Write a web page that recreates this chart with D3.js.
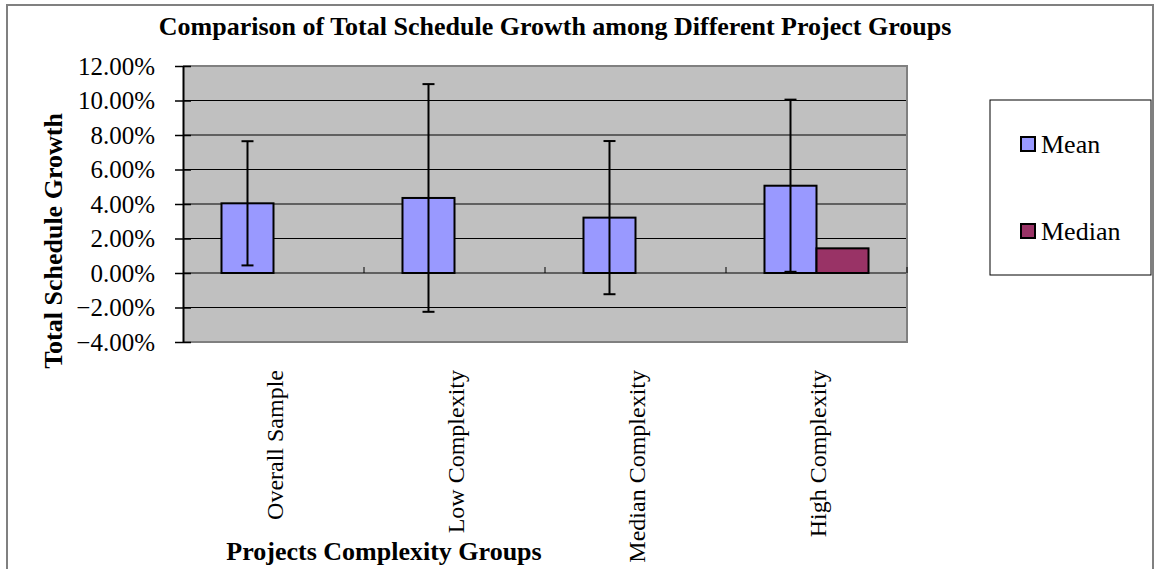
<!DOCTYPE html>
<html><head><meta charset="utf-8">
<script src="https://cdn.jsdelivr.net/npm/d3@7"></script>
<style>html,body{margin:0;padding:0;background:#fff;} svg{display:block;font-family:"Liberation Serif","Times New Roman",serif;}</style>
</head><body>
<svg id="c" width="1156" height="569"></svg>
<script>
const categories = ["Overall Sample","Low Complexity","Median Complexity","High Complexity"];
const seriesNames = ["Mean","Median"];
const meanValues = [0.0404, 0.0435, 0.0321, 0.0506];
const medianValues = [null, null, null, 0.0143];
const meanErrors = [0.036, 0.066, 0.0444, 0.0499];
const yTicks = [-0.04,-0.02,0,0.02,0.04,0.06,0.08,0.10,0.12];
const seriesColors = ["#9999FF","#993366"];
const titleText = "Comparison of Total Schedule Growth among Different Project Groups";
const yTitle = "Total Schedule Growth";
const xTitle = "Projects Complexity Groups";

const svg = d3.select("#c");
const L = 183, R = 907, T = 66, B = 342;

// outer frame
svg.append("rect").attr("x",7).attr("y",5).attr("width",1146).attr("height",580)
  .attr("fill","#fff").attr("stroke","#808080").attr("stroke-width",2);

const x0 = d3.scaleBand().domain(categories).range([L,R]).paddingInner(0).paddingOuter(0);
const x1 = d3.scaleBand().domain(seriesNames).range([0,x0.bandwidth()]).paddingInner(0).paddingOuter(0.74);
const y = d3.scaleLinear().domain([-0.04,0.12]).range([B,T]);

// plot area
svg.append("rect").attr("x",L).attr("y",T).attr("width",R-L).attr("height",B-T).attr("fill","#C0C0C0");
// gridlines
svg.append("g").selectAll("line").data(yTicks.filter(d=>d>-0.04 && d<0.12)).join("line")
  .attr("x1",L).attr("x2",R).attr("y1",d=>y(d)).attr("y2",d=>y(d))
  .attr("stroke","#000").attr("stroke-width",1);
// plot border top/right/bottom
svg.append("path").attr("d",`M${L},${T}H${R}V${B}H${L}`).attr("fill","none").attr("stroke","#808080").attr("stroke-width",2);

// category ticks on zero line
const bounds = categories.slice(1).map(c=>x0(c)).concat([R]);
svg.append("g").selectAll("line").data(bounds).join("line")
  .attr("x1",d=>d).attr("x2",d=>d).attr("y1",y(0)).attr("y2",y(0)-6)
  .attr("stroke","#000").attr("stroke-width",1);

// bars
const data = [];
categories.forEach((c,i)=>{
  [meanValues[i], medianValues[i]].forEach((v,j)=>{
    if(v!==null) data.push({c, s:seriesNames[j], v, j});
  });
});
svg.append("g").selectAll("rect").data(data).join("rect")
  .attr("x",d=>x0(d.c)+x1(d.s)).attr("width",x1.bandwidth())
  .attr("y",d=>y(Math.max(0,d.v))).attr("height",d=>Math.abs(y(d.v)-y(0)))
  .attr("fill",d=>seriesColors[d.j]).attr("stroke","#000").attr("stroke-width",2);

// error bars on Mean
const eg = svg.append("g").attr("stroke","#000").attr("stroke-width",2);
categories.forEach((c,i)=>{
  const cx = x0(c)+x1("Mean")+x1.bandwidth()/2;
  const hi = y(meanValues[i]+meanErrors[i]), lo = y(meanValues[i]-meanErrors[i]);
  eg.append("line").attr("x1",cx).attr("x2",cx).attr("y1",hi).attr("y2",lo);
  eg.append("line").attr("x1",cx-6).attr("x2",cx+6).attr("y1",hi).attr("y2",hi);
  eg.append("line").attr("x1",cx-6).attr("x2",cx+6).attr("y1",lo).attr("y2",lo);
});

// y axis
const yAxis = d3.axisLeft(y).tickValues(yTicks).tickFormat(d3.format(".2%")).tickSizeInner(8).tickSizeOuter(0).tickPadding(20);
const ga = svg.append("g").attr("transform",`translate(${L},0)`).call(yAxis);
ga.select(".domain").attr("stroke","#000").attr("stroke-width",2);
ga.selectAll(".tick line").attr("x2",8).attr("x1",-8).attr("stroke","#000").attr("stroke-width",1.5);
ga.selectAll(".tick text").attr("font-size",25).attr("fill","#000").attr("x",-28)
  .attr("font-family","'Liberation Serif','Times New Roman',serif");

// x labels
svg.append("g").selectAll("text").data(categories).join("text")
  .attr("transform",d=>`translate(${x0(d)+x0.bandwidth()/2+9},370) rotate(-90)`)
  .attr("text-anchor","end").attr("font-size",24).attr("fill","#000").text(d=>d);

// titles
svg.append("text").attr("x",555).attr("y",35).attr("text-anchor","middle")
  .attr("font-size",26).attr("font-weight","bold").text(titleText);
svg.append("text").attr("transform","translate(62,241) rotate(-90)").attr("text-anchor","middle")
  .attr("font-size",26).attr("font-weight","bold").text(yTitle);
svg.append("text").attr("x",384).attr("y",560).attr("text-anchor","middle")
  .attr("font-size",26).attr("font-weight","bold").text(xTitle);

// legend
const lg = svg.append("g");
lg.append("rect").attr("x",990).attr("y",100).attr("width",161).attr("height",175)
  .attr("fill","#fff").attr("stroke","#000").attr("stroke-width",1);
const ly = [144, 231];
seriesNames.forEach((s,i)=>{
  lg.append("rect").attr("x",1021).attr("y",ly[i]-7).attr("width",14).attr("height",14)
    .attr("fill",seriesColors[i]).attr("stroke","#000").attr("stroke-width",2);
  lg.append("text").attr("x",1041).attr("y",ly[i]+9).attr("font-size",26).attr("fill","#000").text(s);
});
</script>
</body></html>
